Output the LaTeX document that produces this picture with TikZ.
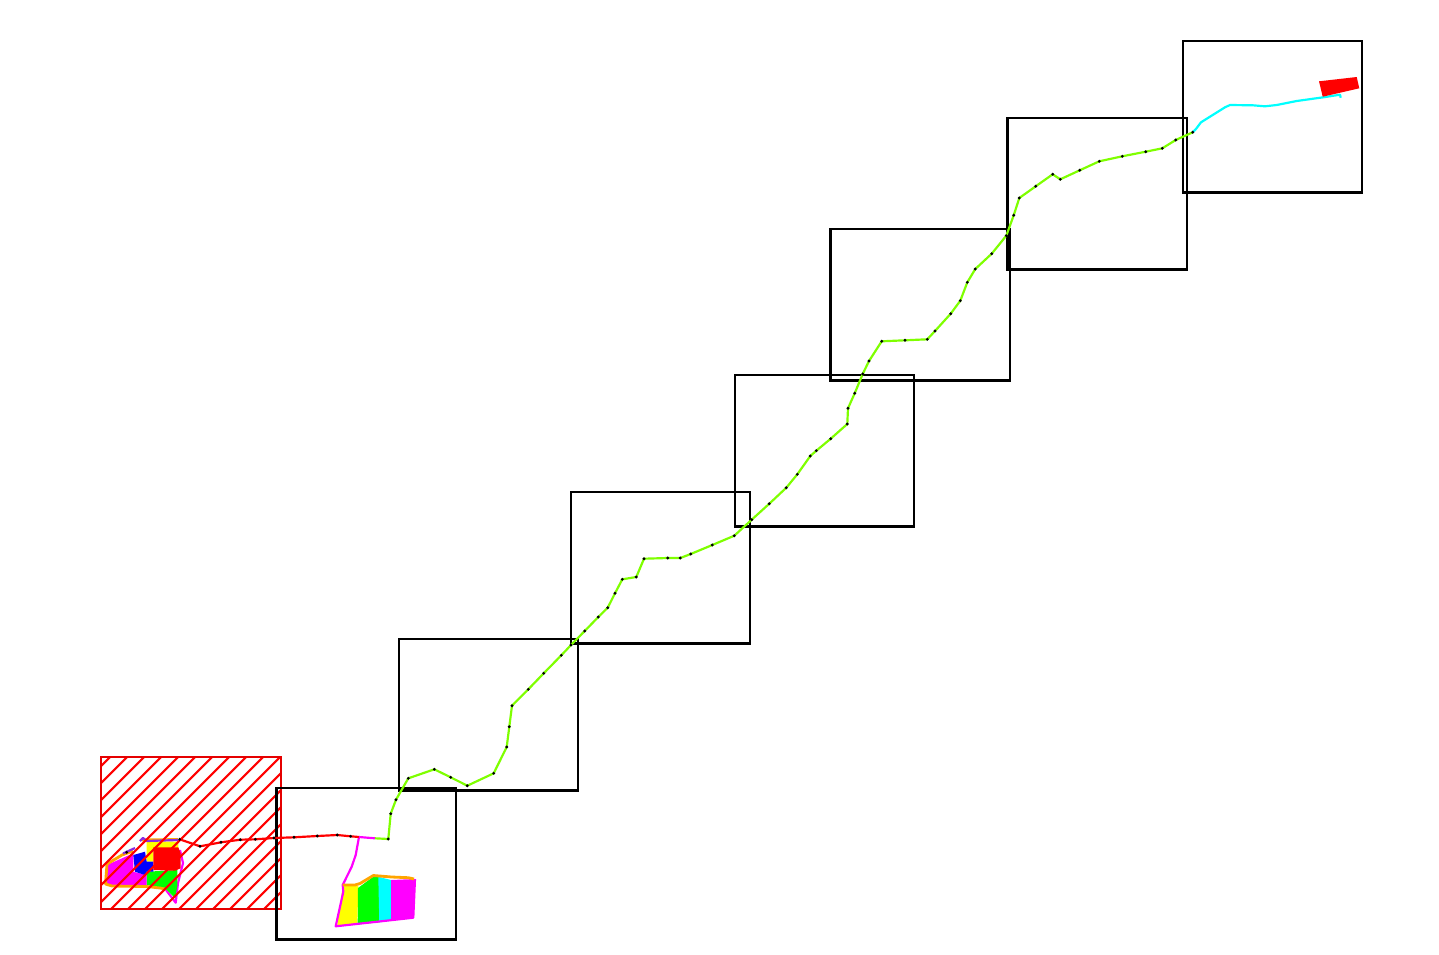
\documentclass[tikz,border=0pt]{standalone}
\definecolor{mapred}{RGB}{255,0,0}
\definecolor{mapgreen}{RGB}{0,255,0}
\definecolor{mapblue}{RGB}{0,0,255}
\definecolor{mapyellow}{RGB}{255,255,0}
\definecolor{mapcyan}{RGB}{0,255,255}
\definecolor{mapmagenta}{RGB}{255,0,255}
\definecolor{maplime}{RGB}{127,255,0}
\definecolor{maporange}{RGB}{255,165,0}
\definecolor{mapviolet}{RGB}{138,43,226}
\tikzset{
    tile/.style={draw=black,line width=0.64pt},
    hatchbox/.style={draw=mapred!90!black,line width=0.8pt},
    hatchline/.style={mapred,line width=0.6pt},
    leg/.style={line width=0.62pt,line join=round},
    rim/.style={maporange,line width=0.8pt,line join=round},
    waypoint/.style={fill=black}
}
\begin{document}
\begin{tikzpicture}[x=0.01cm,y=-0.01cm]
    \useasboundingbox (0,0) rectangle (1439,954);
    % right building
    \fill[mapyellow] (337.3,925) -- (342.7,886) -- (358.3,886) -- (357.3,924.3) -- cycle;
    \fill[mapgreen] (358,888) -- (373.3,876.7) -- (379.3,876.7) -- (379.3,922.3) -- (357.7,924.3) -- cycle;
    \fill[mapcyan] (378.3,876.7) -- (391,880) -- (391,920.7) -- (379.3,922.3) -- cycle;
    \fill[mapmagenta] (391,880) -- (415,879) -- (413.3,917.7) -- (391,920.7) -- cycle;
    \draw[mapmagenta,leg] (359,837) -- (355.7,855) -- (351.7,866.7) -- (342.7,885) -- (343.3,891.7)
        -- (335.7,926.3) -- (413.3,917.7) -- (415,879);
    \draw[rim] (342.7,885) -- (355,885) -- (360,883.5) -- (373.3,875.5)
        -- (391.7,877) -- (408.3,877.7) -- (414,879);
    % left building
    \draw[mapmagenta,leg] (180,850) -- (183,863) -- (178,883) -- (175.7,902.7) -- (166,890);
    \fill[mapgreen] (146.7,871.7) -- (177.3,870) -- (177.3,886.7) -- (175,898) -- (165,888.3) -- (146.7,885) -- cycle;
    \fill[mapyellow] (146.7,841.7) -- (178.3,841.7) -- (178.3,848) -- (153.3,848) -- (153.3,861.7) -- (146.7,861.7) -- cycle;
    \fill[mapmagenta] (106.7,865) -- (133.3,853.3) -- (133.3,871.7) -- (146.7,875) -- (146.7,885) -- (106.7,885) -- cycle;
    \fill[mapblue] (133.3,855) -- (145,851.7) -- (146.7,861.7) -- (153.3,861.7) -- (153.3,871.7) -- (146.7,871.7) -- (145,875) -- (135,871.7) -- cycle;
    \fill[mapred] (153.3,847.3) -- (178.3,847.3) -- (180.7,853.3) -- (180.7,868.3) -- (175,870.7) -- (153.3,870) -- cycle;
    \draw[rim] (107,864) -- (105.5,884) -- (112,886) -- (146.7,886.5) -- (160,888) -- (165,889);
    \draw[rim] (107,864) -- (122,855) -- (133,851) (142,840) -- (178,839.5);
    \draw[mapviolet,leg] (140,841) -- (143,838) -- (147,841) -- (178,840) (123,853.5) -- (135,848);
    % hatching
    \begin{scope}
        \clip (101,757) rectangle (281,909);
        \foreach \d in {0,...,18} {
            \draw[hatchline] ({867+17*\d-757},757) -- ({867+17*\d-909},909);
        }
    \end{scope}
    \draw[hatchbox] (101,757) rectangle (281,909);
    % tiles
    \foreach \tx/\ty in {276.5/788,399/639,571/492,735/375,830.5/229,1007.5/118,1183/41} {
        \draw[tile] (\tx,\ty) rectangle ({\tx+179.2},{\ty+151.5});
    }
    % legs of the route
    \draw[mapred,leg] (179.7,839.3) -- (200,846.3) -- (221,842.3) -- (240.3,839.7) -- (255.3,839.3)
        -- (274,838) -- (294,837.3) -- (317.3,836) -- (337.3,835) -- (350.7,836.3) -- (359,837);
    \draw[mapmagenta,leg] (359,837) -- (375,838.3);
    \draw[maplime,leg] (375,838.3) -- (388.3,839) -- (390.7,813.7) -- (396,799.7) -- (408.3,778.3)
        -- (434.3,769.3) -- (450.7,777.3) -- (467.3,785.7) -- (493.7,773.3) -- (506.7,747)
        -- (509.3,726.7) -- (512,705.7) -- (528.3,689.3) -- (543.7,673.3) -- (561.3,655.3)
        -- (571,645) -- (584.7,631) -- (598.3,617) -- (607.7,607.7) -- (615,593.3) -- (622.3,579.3)
        -- (636.3,577) -- (644,558.7) -- (667.7,558) -- (680.3,558) -- (690.7,554) -- (712.3,545)
        -- (734.3,535.7) -- (751.7,519.7) -- (769.3,503.7) -- (786.3,487.7) -- (797.3,474.3)
        -- (810.3,456) -- (816.3,450.7) -- (830.7,438.7) -- (847.3,424) -- (848,408.3) -- (854.7,393.3)
        -- (862.7,374) -- (869,361) -- (881.7,341.3) -- (905,340.3) -- (927.3,339.3) -- (935,331)
        -- (950.7,313.7) -- (960.3,300.7) -- (967.3,282.3) -- (975.3,269) -- (991.7,253.7)
        -- (1006.3,235.7) -- (1013.7,215.3) -- (1019.3,198) -- (1035.7,186.3) -- (1052.7,174.3)
        -- (1060.3,179.3) -- (1079.7,170.3) -- (1099.3,161.3) -- (1122.3,156.3) -- (1145.7,151.7)
        -- (1162.3,148.3) -- (1175.7,140) -- (1192.7,132.3);
    \draw[mapcyan,leg] (1192.7,132.3) -- (1195.7,129.3) -- (1201,122.3) -- (1225,107.3) -- (1230,105)
        -- (1253,105.3) -- (1265,106.3) -- (1276.7,105) -- (1296.7,101) -- (1323.3,97.3)
        -- (1340,94.7) -- (1340.7,97.7);
    \fill[mapred] (1319,81.3) -- (1356.7,77) -- (1359.3,88.3) -- (1322.7,96.7) -- cycle;
    % stops
    \foreach \wx/\wy in {126.7/852.3,179.7/839.3,200/846.3,221/842.3,240.3/839.7,255.3/839.3,274/838,294/837.3,
        317.3/836,337.3/835,350.7/836.3,388.3/839,390.7/813.7,396/799.7,408.3/778.3,434.3/769.3,450.7/777.3,
        467.3/785.7,493.7/773.3,506.7/747,509.3/726.7,512/705.7,528.3/689.3,543.7/673.3,561.3/655.3,571/645,
        584.7/631,598.3/617,607.7/607.7,615/593.3,622.3/579.3,636.3/577,644/558.7,667.7/558,680.3/558,690.7/554,
        712.3/545,734.3/535.7,751.7/519.7,769.3/503.7,786.3/487.7,797.3/474.3,810.3/456,816.3/450.7,830.7/438.7,
        847.3/424,848/408.3,854.7/393.3,862.7/374,869/361,881.7/341.3,905/340.3,927.3/339.3,935/331,950.7/313.7,
        960.3/300.7,967.3/282.3,975.3/269,991.7/253.7,1006.3/235.7,1013.7/215.3,1019.3/198,1035.7/186.3,
        1052.7/174.3,1060.3/179.3,1079.7/170.3,1099.3/161.3,1122.3/156.3,1145.7/151.7,1162.3/148.3,1175.7/140,
        1192.7/132.3} {
        \fill[waypoint] (\wx,\wy) circle[radius=1.6];
    }
\end{tikzpicture}
\end{document}
